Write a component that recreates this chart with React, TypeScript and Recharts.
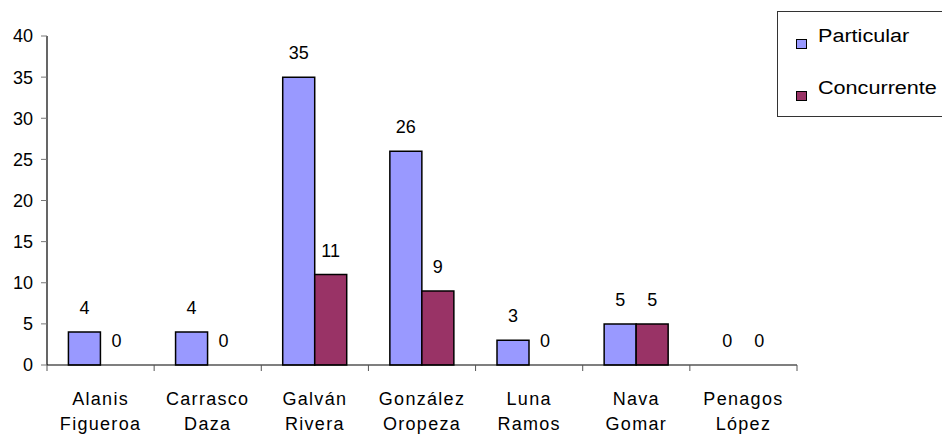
import { Bar, BarChart, LabelList, Rectangle, XAxis, YAxis } from "recharts";

const judges = [
  "Alanis Figueroa",
  "Carrasco Daza",
  "Galván Rivera",
  "González Oropeza",
  "Luna Ramos",
  "Nava Gomar",
  "Penagos López",
];
const particular = [4, 4, 35, 26, 3, 5, 0];
const concurrente = [0, 0, 11, 9, 0, 5, 0];
const yTicks = [0, 5, 10, 15, 20, 25, 30, 35, 40];

const series = [
  { key: "Particular", color: "#9999FF" },
  { key: "Concurrente", color: "#993366" },
];

const FONT = "'Liberation Sans', Arial, sans-serif";

const data = judges.map((name, i) => ({
  name,
  Particular: particular[i],
  Concurrente: concurrente[i],
}));

function JudgeTick(props: any) {
  const { x, y, payload, index, visibleTicksCount } = props;
  const half = payload && payload.offset ? payload.offset : 750 / 7 / 2;
  const [first, ...rest] = String(payload.value).split(" ");
  const isLast = index === (visibleTicksCount ?? judges.length) - 1;
  return (
    <g>
      <line x1={x - half} x2={x - half} y1={y} y2={y + 6} stroke="#555" />
      {isLast && <line x1={x + half} x2={x + half} y1={y} y2={y + 6} stroke="#555" />}
      <text x={x} y={y} dy={40} textAnchor="middle" fontSize={18} letterSpacing={1.3} fill="#000" fontFamily={FONT}>
        {first}
      </text>
      <text x={x} y={y} dy={65} textAnchor="middle" fontSize={18} letterSpacing={1.3} fill="#000" fontFamily={FONT}>
        {rest.join(" ")}
      </text>
    </g>
  );
}

function BarShape(props: any) {
  if (!props.height || Math.abs(props.height) < 0.5) return null;
  return <Rectangle {...props} />;
}

function LegendBox() {
  return (
    <div
      style={{
        position: "absolute",
        left: 777,
        top: 11,
        width: 175,
        height: 106,
        border: "1px solid #333",
        boxSizing: "border-box",
        background: "#fff",
        fontFamily: FONT,
        fontSize: 18,
        color: "#000",
      }}
    >
      {series.map((s, i) => (
        <div key={s.key} style={{ position: "absolute", left: 18, top: 14 + i * 52, whiteSpace: "nowrap", height: 24 }}>
          <span
            style={{
              position: "absolute",
              left: 0,
              top: 13,
              width: 9,
              height: 8,
              background: s.color,
              border: "1.5px solid #000",
            }}
          />
          <span
            style={{
              position: "absolute",
              left: 22,
              top: 0,
              display: "inline-block",
              transform: "scaleX(1.2)",
              transformOrigin: "left center",
            }}
          >
            {s.key}
          </span>
        </div>
      ))}
    </div>
  );
}

export default function App() {
  return (
    <div style={{ position: "absolute", left: 0, top: 0, width: 942, height: 436, overflow: "hidden", background: "#fff" }}>
      <BarChart
        width={942}
        height={436}
        data={data}
        margin={{ top: 36, right: 145, bottom: 0, left: 0 }}
        barCategoryGap="20%"
        barGap={0}
      >
        <YAxis
          domain={[0, 40]}
          ticks={yTicks}
          width={47}
          interval={0}
          tickSize={6}
          tickMargin={8}
          axisLine={{ stroke: "#000", strokeWidth: 1.2 }}
          tickLine={{ stroke: "#777" }}
          tick={{ fontSize: 18, fill: "#000", fontFamily: FONT }}
        />
        <XAxis
          dataKey="name"
          height={71}
          interval={0}
          tickSize={0}
          tickMargin={0}
          axisLine={{ stroke: "#000", strokeWidth: 1.2 }}
          tickLine={false}
          tick={<JudgeTick />}
        />
        {series.map((s) => (
          <Bar
            key={s.key}
            dataKey={s.key}
            fill={s.color}
            stroke="#000"
            strokeWidth={1.5}
            minPointSize={0.01}
            shape={<BarShape />}
            isAnimationActive={false}
          >
            <LabelList dataKey={s.key} position="top" offset={18} fontSize={18} fill="#000" fontFamily={FONT} />
          </Bar>
        ))}
      </BarChart>
      <LegendBox />
    </div>
  );
}
